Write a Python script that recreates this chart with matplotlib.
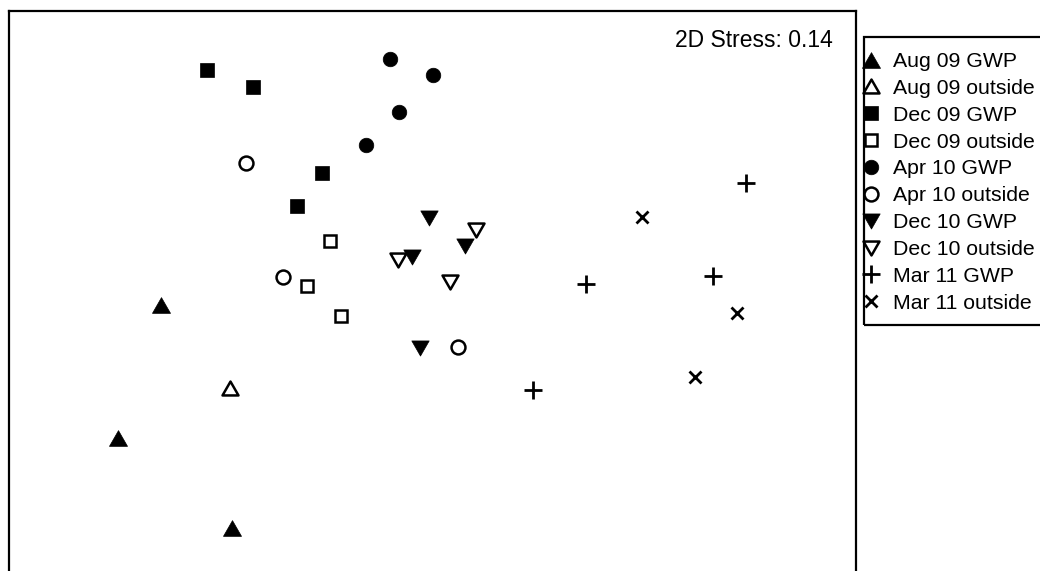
import matplotlib
matplotlib.use("Agg")
import matplotlib.pyplot as plt
from matplotlib.patches import Rectangle
from matplotlib.path import Path

plt.rcParams['font.family'] = ['Liberation Sans', 'DejaVu Sans']

# NMDS ordination coordinates (arbitrary units)
groups = ["Aug 09 GWP", "Aug 09 outside", "Dec 09 GWP", "Dec 09 outside",
          "Apr 10 GWP", "Apr 10 outside", "Dec 10 GWP", "Dec 10 outside",
          "Mar 11 GWP", "Mar 11 outside"]

aug09_gwp_x = [-2.71, -3.14, -2.00]
aug09_gwp_y = [-0.05, -1.38, -2.28]
aug09_out_x = [-2.02]
aug09_out_y = [-0.88]
dec09_gwp_x = [-2.25, -1.79, -1.10, -1.35]
dec09_gwp_y = [2.30, 2.13, 1.27, 0.94]
dec09_out_x = [-1.02, -1.25, -0.91]
dec09_out_y = [0.59, 0.14, -0.16]
apr10_gwp_x = [-0.42, 0.01, -0.33, -0.66]
apr10_gwp_y = [2.41, 2.25, 1.88, 1.55]
apr10_out_x = [-1.86, -1.49, 0.26]
apr10_out_y = [1.37, 0.23, -0.47]
dec10_gwp_x = [-0.03, -0.20, 0.33, -0.12]
dec10_gwp_y = [0.82, 0.43, 0.54, -0.48]
dec10_out_x = [0.44, -0.34, 0.18]
dec10_out_y = [0.70, 0.40, 0.18]
mar11_gwp_x = [3.14, 1.54, 2.81, 1.01]
mar11_gwp_y = [1.17, 0.16, 0.24, -0.90]
mar11_out_x = [2.10, 3.05, 2.63]
mar11_out_y = [0.83, -0.13, -0.77]

stress_label = "2D Stress: 0.14"

W, H = 1040, 571
fig = plt.figure(figsize=(W / 100, H / 100), dpi=100)

def fx(px):
    return px / W

def fy(py):
    return 1 - py / H

ax_left, ax_right, ax_top, ax_bottom = 9, 856, 11, 591
ax = fig.add_axes([fx(ax_left), fy(ax_bottom), (ax_right - ax_left) / W,
                   (ax_bottom - ax_top) / H])
ax.set_xlim(-4.23, 4.24)
ax.set_ylim(-2.91, 2.89)
ax.set_xticks([])
ax.set_yticks([])
for s in ax.spines.values():
    s.set_linewidth(1.6)
    s.set_color('black')

tri_up = Path([(-1, -0.87), (1, -0.87), (0, 0.87), (-1, -0.87)],
              [Path.MOVETO, Path.LINETO, Path.LINETO, Path.CLOSEPOLY])
tri_dn = Path([(-1, 0.87), (1, 0.87), (0, -0.87), (-1, 0.87)],
              [Path.MOVETO, Path.LINETO, Path.LINETO, Path.CLOSEPOLY])

styles = [
    (aug09_gwp_x, aug09_gwp_y, dict(marker=tri_up, markersize=13, mfc='black', mec='black', mew=0.5)),
    (aug09_out_x, aug09_out_y, dict(marker=tri_up, markersize=11.5, mfc='white', mec='black', mew=1.8)),
    (dec09_gwp_x, dec09_gwp_y, dict(marker='s', markersize=10.5, mfc='black', mec='black', mew=0.5)),
    (dec09_out_x, dec09_out_y, dict(marker='s', markersize=8.5, mfc='white', mec='black', mew=1.8)),
    (apr10_gwp_x, apr10_gwp_y, dict(marker='o', markersize=10.5, mfc='black', mec='black', mew=0.5)),
    (apr10_out_x, apr10_out_y, dict(marker='o', markersize=10, mfc='white', mec='black', mew=1.8)),
    (dec10_gwp_x, dec10_gwp_y, dict(marker=tri_dn, markersize=12.5, mfc='black', mec='black', mew=0.5)),
    (dec10_out_x, dec10_out_y, dict(marker=tri_dn, markersize=11.5, mfc='white', mec='black', mew=1.8)),
    (mar11_gwp_x, mar11_gwp_y, dict(marker='+', markersize=13, mfc='black', mec='black', mew=2.0)),
    (mar11_out_x, mar11_out_y, dict(marker='x', markersize=9, mfc='black', mec='black', mew=2.0)),
]

handles = []
for (xs, ys, st), lab in zip(styles, groups):
    ln, = ax.plot(xs, ys, linestyle='none', label=lab, **st)
    handles.append(ln)

fig.text(fx(833), fy(47), stress_label, ha='right', va='baseline',
         fontsize=16.5, color='black')

# legend box
fig.patches.append(Rectangle((fx(864), fy(325)), fx(1045) - fx(864),
                             fy(37) - fy(325), transform=fig.transFigure,
                             facecolor='none', edgecolor='black',
                             linewidth=1.6, figure=fig))

leg = fig.legend(handles=handles, loc='upper left',
                 bbox_to_anchor=(fx(864), fy(52)), frameon=False,
                 fontsize=15.3, borderpad=0, borderaxespad=0,
                 handlelength=0.7, handletextpad=0.68, labelspacing=0.37,
                 numpoints=1)

fig.savefig("out.png", dpi=100)
